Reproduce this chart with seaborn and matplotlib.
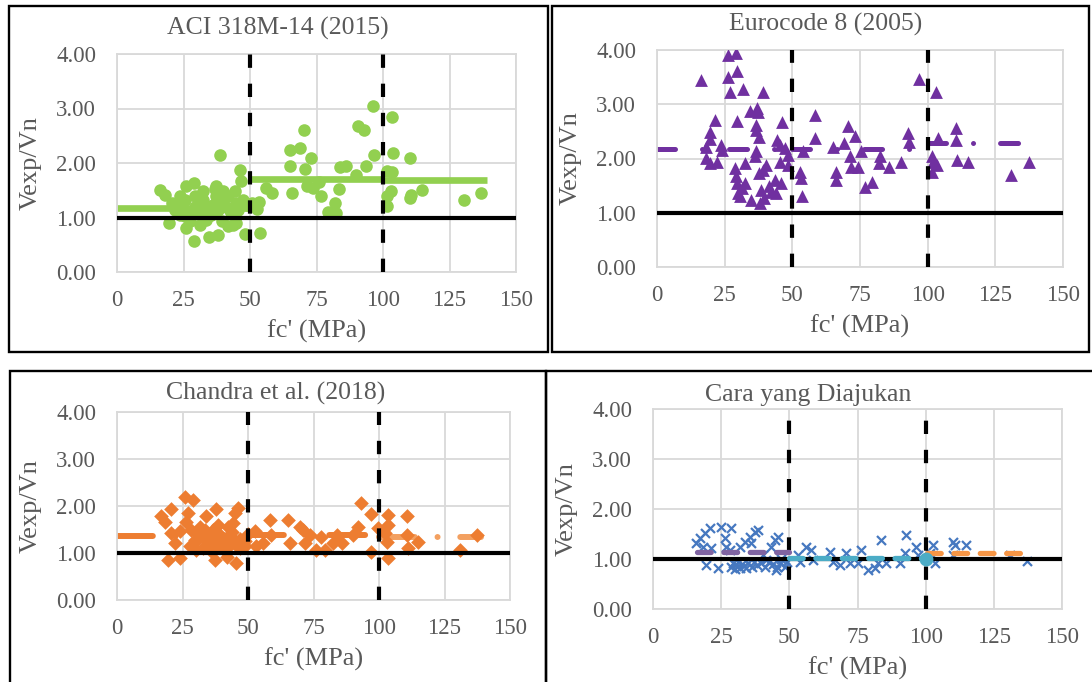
import matplotlib
matplotlib.use("Agg")
import matplotlib.pyplot as plt
from matplotlib.patches import Rectangle
from matplotlib.ticker import FormatStrFormatter
import seaborn as sns

sns.set_style("white")
plt.rcParams['font.family'] = ['Liberation Serif', 'DejaVu Serif']

W, H = 1092, 682
GREY = '#595959'

########################################
# data
########################################
# ACI 318M-14 (2015)
aci_fc = [16.3, 18.1, 19.6, 20.5, 21.7, 22.3, 23.6, 23.6, 25.5, 25.5, 25.9, 26.1, 27.4, 27.8,
          29.0, 29.0, 29.2, 29.2, 30.5, 31.1, 32.4, 32.4, 33.6, 33.6, 34.4, 35.5, 36.1, 36.8,
          37.2, 37.4, 38.0, 38.0, 38.7, 39.3, 39.9, 39.9, 41.8, 41.8, 41.8, 43.0, 43.7, 44.3,
          44.9, 44.9, 45.5, 46.2, 46.8, 47.4, 48.2, 48.7, 50.6, 52.7, 53.5, 53.7, 56.2, 58.1,
          65.0, 65.0, 65.8, 68.8, 70.4, 70.7, 71.3, 72.9, 73.8, 75.9, 76.6, 79.2, 82.0, 82.2,
          83.6, 83.8, 86.1, 89.9, 90.7, 92.9, 93.5, 96.4, 96.6, 101.4, 101.4, 101.6, 103.0,
          103.3, 103.5, 103.7, 110.2, 110.2, 110.5, 114.6, 130.6, 136.9]
aci_ratio = [1.51, 1.41, 0.90, 1.26, 1.14, 1.23, 1.05, 1.39, 1.02, 1.33, 1.57, 0.81, 0.93, 1.05,
             1.64, 0.56, 1.20, 1.39, 1.08, 0.87, 1.48, 1.33, 1.14, 0.96, 0.65, 1.05, 1.23, 1.53,
             1.57, 1.39, 1.14, 0.67, 2.14, 0.93, 1.49, 1.29, 1.39, 1.17, 0.84, 1.08, 0.87, 1.48,
             1.26, 0.90, 1.14, 1.87, 1.67, 1.33, 0.69, 1.23, 1.26, 1.16, 1.29, 0.71, 1.54, 1.45,
             2.24, 1.95, 1.45, 2.27, 2.60, 1.89, 1.57, 2.10, 1.54, 1.66, 1.40, 1.11, 1.26, 1.08,
             1.53, 1.92, 1.95, 1.78, 2.68, 2.61, 1.95, 3.05, 2.14, 1.40, 1.22, 1.86, 1.48,
             2.84, 1.84, 2.19, 2.09, 1.36, 1.42, 1.51, 1.33, 1.45]
aci_mean_from = [0, 50, 100]
aci_mean_to = [50, 100, 139]
aci_mean = [1.18, 1.70, 1.68]

# Eurocode 8 (2005)
ec8_fc = [16.4, 18.2, 18.2, 19.5, 19.5, 19.5, 21.6, 22.2, 23.5, 24.1, 26.2, 26.2, 27.1, 28.7,
          29.1, 29.3, 29.7, 29.7, 29.7, 29.9, 30.5, 31.5, 31.8, 32.4, 32.4, 34.2, 34.9, 36.1,
          36.5, 36.7, 36.7, 37.1, 37.3, 37.6, 37.7, 37.9, 38.5, 39.2, 39.2, 39.4, 40.1, 41.5,
          42.2, 43.5, 44.1, 44.3, 45.3, 45.3, 45.9, 46.2, 47.2, 48.4, 48.4, 53.0, 53.1, 53.6,
          53.9, 58.3, 58.3, 65.0, 66.0, 66.0, 69.1, 70.6, 71.2, 71.5, 73.0, 74.3, 75.2, 76.7,
          79.4, 82.0, 82.5, 85.7, 90.3, 92.7, 93.1, 96.7, 101.7, 101.7, 102.0, 103.0, 103.6,
          103.8, 110.6, 110.6, 110.8, 114.9, 130.9, 137.3]
ec8_ratio = [3.44, 2.22, 2.01, 2.48, 2.36, 1.91, 2.71, 1.94, 2.25, 2.15, 3.91, 3.50, 3.22, 1.82,
             1.67, 3.94, 3.62, 2.70, 1.55, 1.36, 1.30, 1.45, 3.28, 1.91, 1.55, 2.88, 1.24, 2.04,
             2.62, 2.53, 2.13, 2.94, 2.85, 2.39, 1.73, 1.18, 1.42, 3.22, 1.79, 1.27, 1.88, 1.50,
             1.39, 1.60, 1.36, 2.34, 2.25, 1.94, 1.55, 2.68, 2.19, 2.07, 1.88, 1.76, 1.64, 1.30,
             2.13, 2.80, 2.37, 2.22, 1.76, 1.60, 2.28, 2.59, 2.04, 1.85, 2.42, 1.85, 2.13, 1.48,
             1.56, 1.91, 2.04, 1.85, 1.94, 2.47, 2.31, 3.46, 2.04, 1.76, 1.93, 3.23, 1.88,
             2.37, 2.57, 2.34, 1.98, 1.94, 1.70, 1.94]
ec8_mean_from = [0, 50, 100]
ec8_mean_to = [50, 100, 137]
ec8_mean = [2.18, 2.17, 2.28]

# Chandra et al. (2018)
ch_fc = [16.9, 18.2, 19.5, 20.8, 20.8, 22.0, 23.9, 23.9, 25.8, 26.5, 27.1, 28.0, 28.4, 29.0,
         29.7, 30.0, 30.3, 31.0, 31.6, 32.8, 33.0, 33.5, 34.1, 34.1, 35.0, 36.0, 36.7, 37.3,
         37.7, 38.0, 38.6, 39.0, 39.9, 40.0, 41.0, 41.8, 42.0, 42.4, 43.0, 43.7, 44.0, 44.1,
         44.9, 45.0, 45.6, 46.2, 46.9, 47.0, 48.8, 49.0, 50.0, 52.6, 53.2, 55.8, 58.3, 58.9,
         65.3, 66.0, 69.8, 71.1, 71.7, 73.6, 76.1, 78.0, 79.3, 82.5, 83.8, 85.7, 90.1, 92.1,
         93.3, 97.1, 97.1, 99.7, 102.2, 102.9, 103.5, 103.5, 103.5, 110.5, 110.5, 111.2, 115.0,
         130.9, 137.5]
ch_ratio = [1.78, 1.65, 0.85, 1.93, 1.42, 1.21, 1.46, 0.89, 2.19, 1.67, 1.86, 1.15, 1.49, 2.12,
            1.28, 1.25, 1.07, 1.40, 1.56, 1.35, 1.10, 1.50, 1.78, 1.14, 1.30, 1.05, 1.49, 0.85,
            1.93, 1.20, 1.60, 1.40, 1.31, 1.10, 1.30, 0.92, 1.10, 1.56, 1.35, 1.21, 1.45, 1.63,
            1.85, 1.20, 0.78, 1.95, 1.10, 1.30, 1.14, 1.25, 1.40, 1.46, 1.14, 1.21, 1.71, 1.39,
            1.71, 1.21, 1.56, 1.49, 1.21, 1.39, 1.07, 1.35, 1.07, 1.21, 1.39, 1.21, 1.39, 1.56,
            2.07, 1.83, 1.03, 1.53, 1.42, 1.24, 1.81, 1.60, 0.89, 1.78, 1.39, 1.10, 1.24,
            1.07, 1.39]
ch_mean_from = [0, 50, 100]
ch_mean_to = [50, 100, 139]
ch_mean = [1.37, 1.38, 1.35]

# Cara yang Diajukan (proposed)
pr_fc = [15.9, 17.1, 18.3, 19.0, 19.6, 20.8, 21.4, 23.8, 25.1, 26.3, 26.6, 28.1, 28.5, 28.7,
         29.3, 30.0, 30.6, 31.2, 31.8, 32.0, 32.6, 33.4, 33.6, 34.2, 35.0, 35.5, 36.0, 36.2,
         37.0, 37.3, 38.0, 38.5, 39.5, 40.3, 41.0, 41.6, 42.5, 43.4, 44.0, 44.6, 45.2, 45.5,
         45.8, 46.5, 47.0, 48.3, 49.0, 53.2, 53.8, 56.2, 58.1, 58.7, 64.8, 65.9, 68.4, 70.9,
         72.1, 75.2, 76.4, 78.8, 81.3, 82.5, 83.7, 85.6, 90.5, 92.3, 92.9, 96.6, 97.2, 101.5,
         102.7, 103.3, 110.0, 110.6, 110.0, 114.9, 130.8, 137.3]
pr_ratio = [1.32, 1.42, 1.25, 1.52, 0.89, 1.62, 1.22, 0.82, 1.65, 1.42, 1.25, 1.18, 0.85, 1.62,
            0.93, 0.80, 0.88, 0.95, 1.25, 0.83, 0.90, 0.86, 1.35, 0.82, 0.92, 1.45, 1.32, 0.85,
            0.95, 1.55, 0.88, 1.58, 0.92, 1.08, 0.85, 0.98, 0.95, 1.25, 0.90, 1.38, 0.79, 0.85,
            1.45, 0.92, 1.00, 0.85, 0.95, 1.08, 0.95, 1.25, 1.18, 0.98, 1.15, 0.95, 0.89, 1.12,
            0.92, 0.92, 1.18, 0.79, 0.82, 0.92, 1.38, 0.93, 0.92, 1.12, 1.48, 1.25, 1.08, 1.12,
            1.28, 0.92, 1.35, 1.28, 1.08, 1.28, 1.08, 0.97]
pr_mean_from = [16, 50, 100.5]
pr_mean_to = [50, 100, 137]
pr_mean = [1.14, 1.02, 1.12]
pr_end_fc = [100]
pr_end_ratio = [1.0]


########################################
# layout helpers (pixel boxes of the original)
########################################
fig = plt.figure(figsize=(W / 100, H / 100), dpi=100)
fig.patch.set_facecolor('white')


def px_axes(x0, y0, x1, y1):
    return fig.add_axes([x0 / W, 1 - y1 / H, (x1 - x0) / W, (y1 - y0) / H])


def frame(x0, y0, x1, y1):
    fig.add_artist(Rectangle((x0 / W, 1 - y1 / H), (x1 - x0) / W, (y1 - y0) / H,
                             transform=fig.transFigure, fill=False,
                             ec='black', lw=1.7, zorder=10))


def base(ax, box, title, title_xy):
    x0, y0, x1, y1 = box
    ax.set_xlim(0, 150)
    ax.set_ylim(0, 4)
    ax.set_xticks(range(0, 151, 25))
    ax.set_yticks([0, 1, 2, 3, 4])
    ax.yaxis.set_major_formatter(FormatStrFormatter('%.2f'))
    ax.set_axisbelow(True)
    ax.grid(True, color='#D9D9D9', lw=1.3)
    for s in ax.spines.values():
        s.set_color('#D9D9D9')
        s.set_linewidth(1.3)
    ax.tick_params(axis='both', length=0, labelsize=16.5, labelcolor=GREY)
    ax.tick_params(axis='y', pad=15)
    ax.tick_params(axis='x', pad=13)
    ax.set_xlabel("fc' (MPa)", fontsize=19, color=GREY, va='center')
    ax.set_ylabel('Vexp/Vn', fontsize=19, color=GREY, va='center')
    ax.xaxis.set_label_coords(0.5, -59 / (y1 - y0))
    ax.yaxis.set_label_coords(-86 / (x1 - x0), 0.5)
    # reference line Vexp/Vn = 1 and the fc' = 50 / 100 MPa limits
    ax.axhline(1, color='black', lw=3, zorder=6)
    ax.vlines([50, 100], 0, 4, colors='black', lw=3,
              linestyles=(0, (3.2, 3.8)), zorder=7)
    fig.text(title_xy[0] / W, 1 - title_xy[1] / H, title, fontsize=18.5,
             color=GREY, ha='center', va='center')


def means(ax, x_from, x_to, vals, colors, lw, dashes=None, z=2):
    for a, b, v, c in zip(x_from, x_to, vals, colors):
        kw = dict(color=c, lw=lw, zorder=z, solid_capstyle='butt')
        if dashes is not None:
            kw.update(dashes=dashes, dash_capstyle='round')
        ax.plot([a, b], [v, v], **kw)


########################################
# ACI 318M-14
########################################
b1 = (117, 54, 516, 272)
ax1 = px_axes(*b1)
base(ax1, b1, 'ACI 318M-14 (2015)', (278, 28))
means(ax1, aci_mean_from, aci_mean_to, aci_mean, ['#92D050'] * 3, 4.8)
sns.scatterplot(x=aci_fc, y=aci_ratio, ax=ax1, color='#92D050', marker='o',
                s=82, linewidth=0, zorder=3)

########################################
# Eurocode 8
########################################
b2 = (657, 50, 1063, 267)
ax2 = px_axes(*b2)
base(ax2, b2, 'Eurocode 8 (2005)', (826, 24))
means(ax2, ec8_mean_from, ec8_mean_to, ec8_mean, ['#7030A0'] * 3, 3.6,
      dashes=(3.6, 5.4, 0.01, 5.4))
sns.scatterplot(x=ec8_fc, y=ec8_ratio, ax=ax2, color='#7030A0', marker='^',
                s=85, linewidth=0, zorder=3)

########################################
# Chandra et al.
########################################
b3 = (117, 412, 510, 600)
ax3 = px_axes(*b3)
base(ax3, b3, 'Chandra et al. (2018)', (276, 393))
means(ax3, ch_mean_from, ch_mean_to, ch_mean, ['#ED7D31', '#ED7D31', '#F3A060'], 4.3,
      dashes=(6, 3.8, 0.01, 3.8))
sns.scatterplot(x=ch_fc, y=ch_ratio, ax=ax3, color='#ED7D31', marker='D',
                s=56, linewidth=0, zorder=3)

########################################
# Cara yang Diajukan
########################################
b4 = (653, 409, 1062, 609)
ax4 = px_axes(*b4)
base(ax4, b4, 'Cara yang Diajukan', (808, 395))
sns.scatterplot(x=pr_fc, y=pr_ratio, ax=ax4, color='#4678C0', marker='x',
                s=42, linewidth=1.6, zorder=3)
means(ax4, pr_mean_from, pr_mean_to, pr_mean, ['#8064A2', '#4BACC6', '#F79646'], 3.8,
      dashes=(2.6, 2.4), z=8)
ax4.plot(pr_end_fc, pr_end_ratio, 'o', color='#4BACC6', ms=10, mew=0, zorder=8)

# panel borders
frame(8.5, 6, 548, 351.5)
frame(552, 6, 1089, 352)
frame(10, 371, 546, 690)
frame(546, 371, 1100, 690)

fig.savefig('out.png', dpi=100, facecolor='white')
